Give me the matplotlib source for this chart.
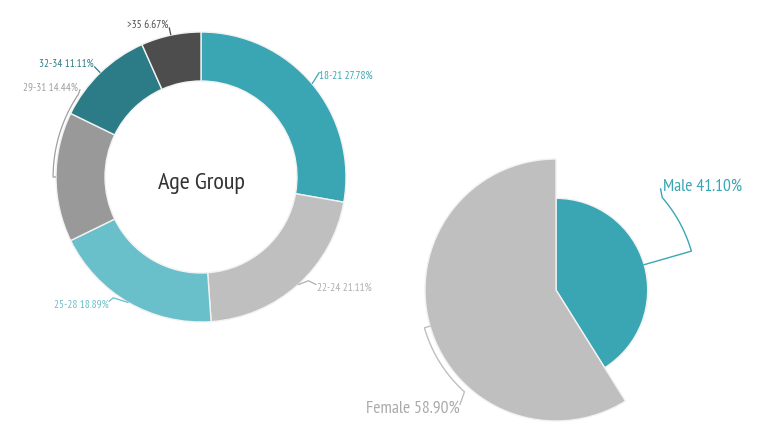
import numpy as np
import matplotlib
matplotlib.use("Agg")
import matplotlib.pyplot as plt
from matplotlib import font_manager as fm

# ---------------- data ----------------
age_labels = ["18-21", "22-24", "25-28", "29-31", "32-34", ">35"]
age_values = [27.78, 21.11, 18.89, 14.44, 11.11, 6.67]
age_colors = ["#3AA6B4", "#BFBFBF", "#69C0CA", "#999999", "#2C7C87", "#4D4D4D"]
age_text_colors = ["#3AA6B4", "#AFAFAF", "#69C0CA", "#A0A0A0", "#2C7C87", "#4D4D4D"]

gender_labels = ["Male", "Female"]
gender_values = [41.10, 58.90]
gender_colors = ["#3AA6B4", "#BFBFBF"]
gender_text_colors = ["#3AA6B4", "#AAAAAA"]
gender_radius_scale = [0.70, 1.0]

center_title = "Age Group"

# ---------------- fonts ----------------
names = {f.name for f in fm.fontManager.ttflist}
font_kw = dict(family="DejaVu Sans")
fscale = 0.8
for cand in ["PT Sans Narrow", "Fira Sans Condensed", "Roboto Condensed",
             "Open Sans Condensed", "Liberation Sans Narrow"]:
    if cand in names:
        font_kw = dict(family=cand)
        fscale = 1.0
        break

W, H = 769, 436
fig = plt.figure(figsize=(W / 100, H / 100), dpi=100)
ax = fig.add_axes([0, 0, 1, 1])

# ---------------- donut ----------------
dc = (201, H - 177)
R = 145
wedges, _ = ax.pie(age_values, colors=age_colors, radius=R, center=dc,
                   startangle=90, counterclock=False,
                   wedgeprops=dict(width=49, edgecolor="#F2F2F2", linewidth=1.0))

ax.text(dc[0], dc[1] - 6, center_title, ha="center", va="center",
        fontsize=17.5 * fscale, color="#333333", **font_kw)


def pol(c, r, a):
    t = np.deg2rad(a)
    return c[0] + r * np.cos(t), c[1] + r * np.sin(t)


def arc(c, r, a0, a1, n=40):
    return [(r, a) for a in np.linspace(a0, a1, n)]


def mids(values, start=90):
    tot = sum(values)
    out = []
    acc = 0
    for v in values:
        a0 = start - 360 * acc / tot
        a1 = start - 360 * (acc + v) / tot
        out.append((a0 + a1) / 2)
        acc += v
    return out


am = mids(age_values)
age_leaders = [
    [(R, am[0]), (1.09 * R, am[0] + 1.5)],
    [(R, am[1]), (1.03 * R, am[1] + 4), (1.09 * R, am[1] + 5)],
    [(R, am[2]), (1.03 * R, am[2] - 6), (1.07 * R, am[2] - 6.5)],
    [(R, am[3]), (1.02 * R, am[3])] + arc(dc, 1.02 * R, am[3], am[3] - 34) + [(1.03 * R, am[3] - 36)],
    [(R, am[4]), (1.06 * R, am[4])],
    [(R, am[5]), (1.055 * R, am[5])],
]
age_text_off = [(0, -3.5, "left"), (0, -3, "left"), (0, -3, "right"),
                (-2, 2, "right"), (0, 3, "right"), (-1, 3, "right")]

for i, lab in enumerate(age_labels):
    pts = [pol(dc, r, a) for r, a in age_leaders[i]]
    xs, ys = zip(*pts)
    ax.plot(xs, ys, color=age_text_colors[i], lw=0.9, solid_capstyle="butt")
    dx, dy, ha = age_text_off[i]
    ax.text(xs[-1] + dx, ys[-1] + dy, f"{lab} {age_values[i]:.2f}%", ha=ha, va="center",
            fontsize=8 * fscale, color=age_text_colors[i], **font_kw)

# ---------------- gender pie ----------------
pc = (556, H - 290)
Rf = 131
gw, _ = ax.pie(gender_values, colors=gender_colors, radius=Rf, center=pc,
               startangle=90, counterclock=False,
               wedgeprops=dict(edgecolor="#F2F2F2", linewidth=1.0))
for w, s in zip(gw, gender_radius_scale):
    w.set_radius(Rf * s)

gm = mids(gender_values)
Rm = Rf * gender_radius_scale[0]
gender_leaders = [
    [(Rm, gm[0]), (1.075 * Rf, gm[0])] + arc(pc, 1.075 * Rf, gm[0], gm[0] + 25) + [(1.11 * Rf, gm[0] + 28)],
    [(Rf, gm[1]), (1.045 * Rf, gm[1])] + arc(pc, 1.045 * Rf, gm[1], gm[1] + 32) + [(1.14 * Rf, gm[1] + 34)],
]
gender_text_off = [(2, 2, "left"), (0, -4, "right")]
for i, lab in enumerate(gender_labels):
    pts = [pol(pc, r, a) for r, a in gender_leaders[i]]
    xs, ys = zip(*pts)
    ax.plot(xs, ys, color=gender_colors[i] if i == 0 else "#BFBFBF", lw=1.0)
    dx, dy, ha = gender_text_off[i]
    ax.text(xs[-1] + dx, ys[-1] + dy, f"{lab} {gender_values[i]:.2f}%", ha=ha, va="center",
            fontsize=12.6 * fscale, color=gender_text_colors[i], **font_kw)

ax.set_xlim(0, W)
ax.set_ylim(0, H)
ax.set_aspect("equal")
ax.axis("off")
fig.savefig("out.png", dpi=100, facecolor="white")
